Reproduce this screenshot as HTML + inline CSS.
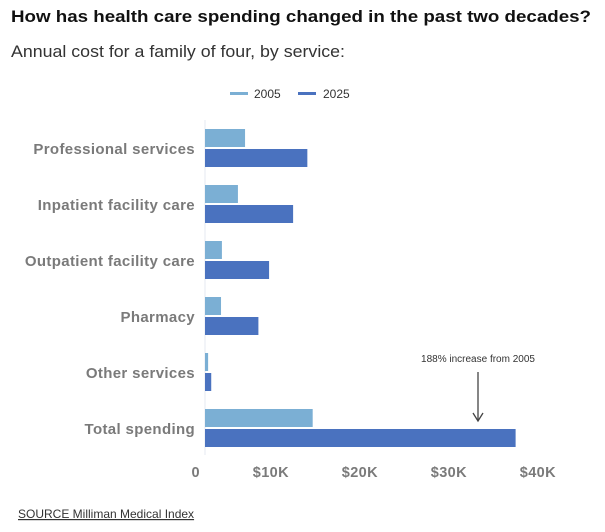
<!DOCTYPE html>
<html><head><meta charset="utf-8"><style>
body{margin:0;background:#fff;width:605px;height:527px;overflow:hidden;font-family:"Liberation Sans",sans-serif}
</style></head><body>
<svg width="605" height="527" font-family="Liberation Sans, sans-serif">
<text x="11" y="22" font-size="17" font-weight="bold" fill="#111" textLength="580" lengthAdjust="spacingAndGlyphs">How has health care spending changed in the past two decades?</text>
<text x="11" y="57" font-size="16.5" fill="#333" textLength="334" lengthAdjust="spacingAndGlyphs">Annual cost for a family of four, by service:</text>
<g>
<rect x="230" y="92" width="18" height="3" fill="#7bafd4"/>
<text x="254" y="98" font-size="12" fill="#333">2005</text>
<rect x="298" y="92" width="18" height="3" fill="#4a72bf"/>
<text x="323" y="98" font-size="12" fill="#333">2025</text>
</g>
<line x1="205" y1="120" x2="205" y2="455" stroke="#e4e8f0"/>
<g id="bars"></g>
<g>
<text x="478" y="362" font-size="10" fill="#333" text-anchor="middle">188% increase from 2005</text>
<line x1="478" y1="372" x2="478" y2="420" stroke="#444" stroke-width="1.3"/>
<path d="M473 413 L478 421 L483 413" fill="none" stroke="#444" stroke-width="1.3"/>
</g>
<text x="18" y="518" font-size="12" fill="#333" text-decoration="underline">SOURCE Milliman Medical Index</text>
</svg>
<script>
const categories=["Professional services","Inpatient facility care","Outpatient facility care","Pharmacy","Other services","Total spending"];
const values2005=[4.5,3.7,1.9,1.8,0.35,12.1];
const values2025=[11.5,9.9,7.2,6.0,0.7,34.9];
const ticks=[0,10,20,30,40];
const tickLabels=["0","$10K","$20K","$30K","$40K"];
const ns="http://www.w3.org/2000/svg";
const g=document.getElementById("bars");
const x=v=>205+v*8.9;
const y=i=>129+i*56;
function mk(t,a){const e=document.createElementNS(ns,t);for(const k in a)e.setAttribute(k,a[k]);g.appendChild(e);return e;}
categories.forEach((c,i)=>{
 const l=mk("text",{x:195,y:y(i)+25,"text-anchor":"end","font-size":"15","font-weight":"bold",fill:"#7a7a7a","letter-spacing":"0.35"});
 l.textContent=c;
 
 
 const a=mk("rect",{x:205,y:y(i),width:x(values2005[i])-205,height:18,fill:"#7bafd4"});
 
 
 const b=mk("rect",{x:205,y:y(i)+20,width:x(values2025[i])-205,height:18,fill:"#4a72bf"});
 
 
});
ticks.forEach((t,i)=>{
 const e=mk("text",{x:x(t)-5,y:477,"text-anchor":"end","font-size":"14.5","font-weight":"bold",fill:"#7a7a7a","letter-spacing":"0.4"});
 e.textContent=tickLabels[i];
 
 
});
</script>
</body></html>
